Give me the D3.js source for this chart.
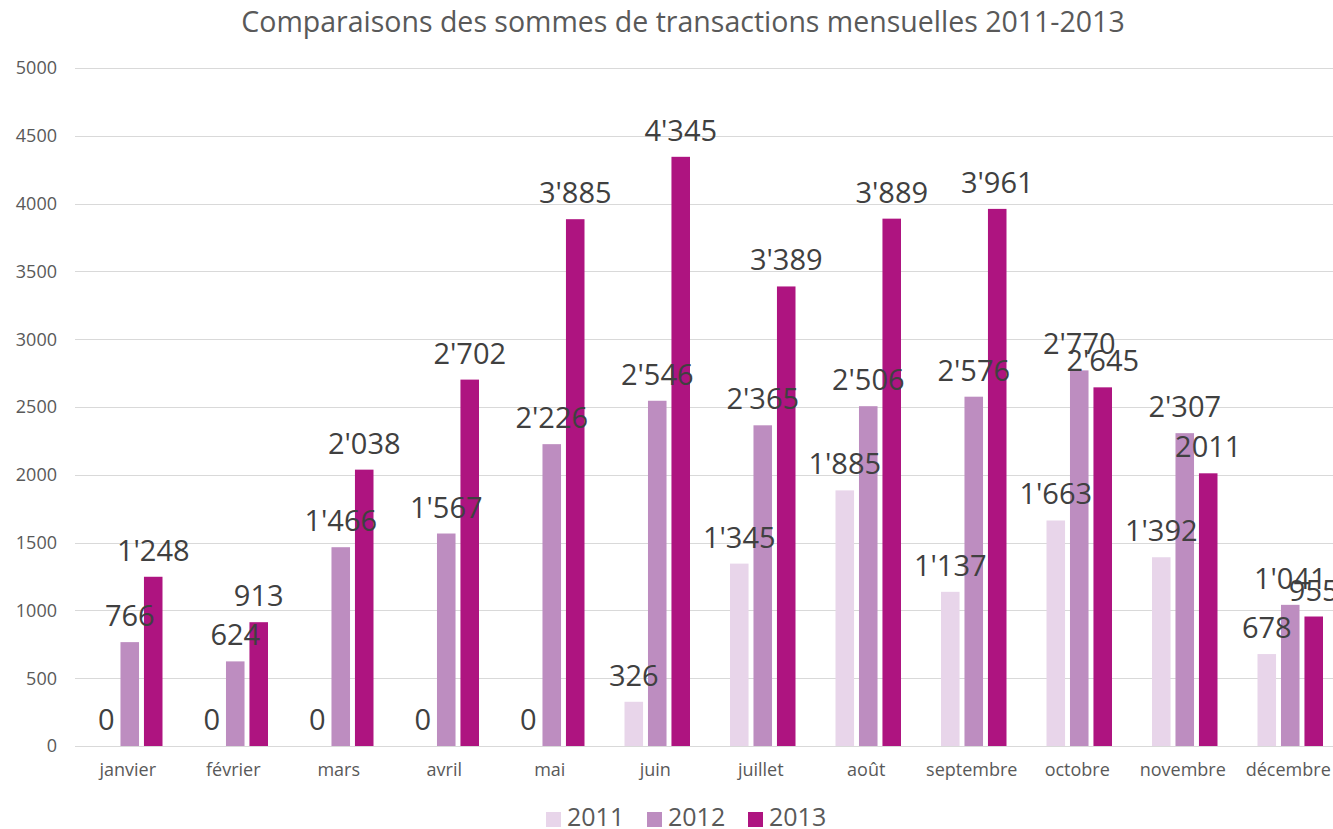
<!DOCTYPE html>
<meta charset="utf-8">
<style>
body{
    margin: 0;
    background: #fff;
    font-family: "Open Sans", sans-serif;
}
.grid line{
    stroke: #d9d9d9;
    stroke-width: 1;
}
.axis text{
    fill: #595959;
}
.label{
    fill: #404040;
}
</style>
<svg width="1333" height="829"></svg>
<script src="https://d3js.org/d3.v7.min.js"></script>
<script>

var months = ['janvier','février','mars','avril','mai','juin','juillet','août','septembre','octobre','novembre','décembre'];
var years = ['2011','2012','2013'];

var v2011 = [0, 0, 0, 0, 0, 326, 1345, 1885, 1137, 1663, 1392, 678];
var v2012 = [766, 624, 1466, 1567, 2226, 2546, 2365, 2506, 2576, 2770, 2307, 1041];
var v2013 = [1248, 913, 2038, 2702, 3885, 4345, 3389, 3889, 3961, 2645, 2011, 955];

// the sheet printed november 2013 without separator
var plainLabels = {'2013-10': true};

var yTicks = [0, 500, 1000, 1500, 2000, 2500, 3000, 3500, 4000, 4500, 5000];

var colour = {
    '2011': '#e8d5ea',
    '2012': '#bd8dc0',
    '2013': '#ae1480'
};

var series = {'2011': v2011, '2012': v2012, '2013': v2013};

var svg = d3.select('svg');
var plotLeft = 77, plotRight = 1343, plotTop = 68, plotBottom = 746;

var x0 = d3.scaleBand()
    .domain(months)
    .range([plotLeft, plotRight]);

var x1 = d3.scaleBand()
    .domain(years)
    .range([20, x0.bandwidth() - 20])
    .paddingInner(0.21);

var y = d3.scaleLinear()
    .domain([0, 5000])
    .range([plotBottom, plotTop]);

var fmt = d3.formatLocale({decimal: '.', thousands: "'", grouping: [3], currency: ['', '']}).format(',d');

// title
svg.append('text')
    .attr('x', 683)
    .attr('y', 32)
    .attr('text-anchor', 'middle')
    .style('font-size', '28.5px')
    .style('fill', '#595959')
    .text('Comparaisons des sommes de transactions mensuelles 2011-2013');

// grid
svg.append('g')
    .attr('class', 'grid')
    .selectAll('line')
    .data(yTicks)
    .enter()
    .append('line')
        .attr('x1', 75)
        .attr('x2', 1333)
        .attr('y1', function(d){ return Math.round(y(d)) + 0.5; })
        .attr('y2', function(d){ return Math.round(y(d)) + 0.5; });

// y axis labels
svg.append('g')
    .attr('class', 'axis')
    .selectAll('text')
    .data(yTicks)
    .enter()
    .append('text')
        .attr('x', 57)
        .attr('y', function(d){ return y(d); })
        .attr('dy', '0.35em')
        .attr('text-anchor', 'end')
        .style('font-size', '18px')
        .text(function(d){ return d; });

// x axis labels
svg.append('g')
    .attr('class', 'axis')
    .selectAll('text')
    .data(months)
    .enter()
    .append('text')
        .attr('x', function(d){ return x0(d) + x0.bandwidth() / 2 - 2; })
        .attr('y', 776)
        .attr('text-anchor', 'middle')
        .style('font-size', '18px')
        .text(function(d){ return d; });

var rows = [];
years.forEach(function(yr){
    series[yr].forEach(function(v, i){
        rows.push({year: yr, month: months[i], idx: i, value: v});
    });
});

var bars = svg.append('g').attr('class', 'bars');

bars.selectAll('rect')
    .data(rows)
    .enter()
    .append('rect')
        .attr('x', function(d){ return x0(d.month) + x1(d.year); })
        .attr('width', x1.bandwidth())
        .attr('y', function(d){ return y(d.value); })
        .attr('height', function(d){ return y(0) - y(d.value); })
        .attr('fill', function(d){ return colour[d.year]; });

bars.selectAll('text')
    .data(rows)
    .enter()
    .append('text')
        .attr('class', 'label')
        .attr('x', function(d){ return x0(d.month) + x1(d.year) + x1.bandwidth() / 2; })
        .attr('y', function(d){ return y(d.value) - 16; })
        .attr('text-anchor', 'middle')
        .style('font-size', '29px')
        .text(function(d){
            if (plainLabels[d.year + '-' + d.idx]) return String(d.value);
            return fmt(d.value);
        });

// legend
var legend = svg.append('g')
    .attr('class', 'axis')
    .selectAll('g')
    .data(years)
    .enter()
    .append('g')
        .attr('transform', function(d, i){ return 'translate(' + (546 + i * 101) + ',0)'; });

legend.append('rect')
    .attr('y', 812)
    .attr('width', 15)
    .attr('height', 15)
    .attr('fill', function(d){ return colour[d]; });

legend.append('text')
    .attr('x', 21)
    .attr('y', 826)
    .style('font-size', '25px')
    .text(function(d){ return d; });

</script>
